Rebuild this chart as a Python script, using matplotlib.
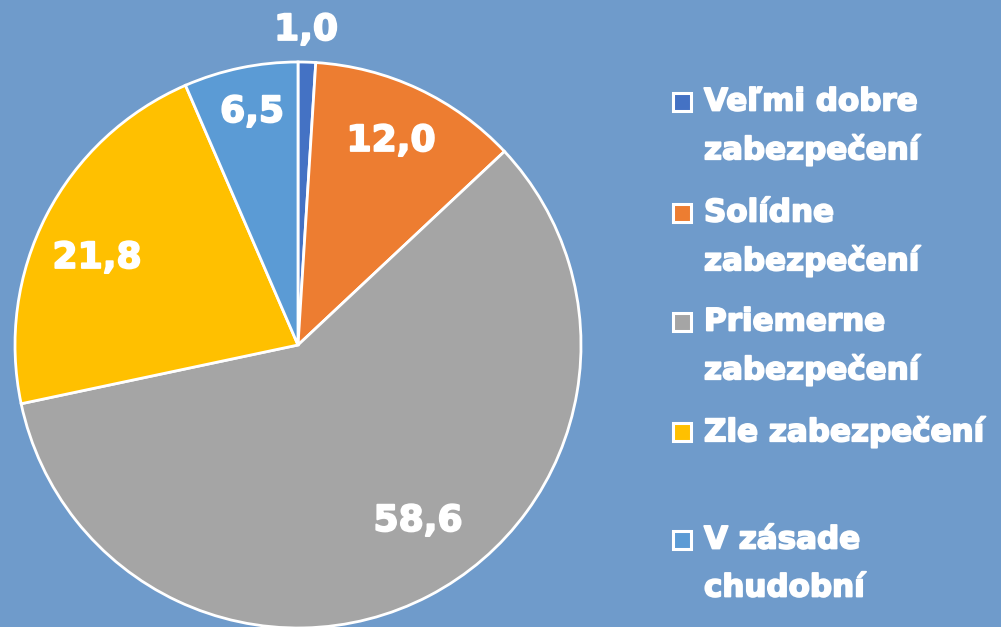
import matplotlib.pyplot as plt
import matplotlib.patheffects as pe
from matplotlib.patches import Rectangle

labels = ['Veľmi dobre\nzabezpečení', 'Solídne\nzabezpečení', 'Priemerne\nzabezpečení',
          'Zle zabezpečení', 'V zásade\nchudobní']
values = [1.0, 12.0, 58.6, 21.8, 6.5]
colors = ['#4472C4', '#ED7D31', '#A5A5A5', '#FFC000', '#5B9BD5']
bg = '#6F9BCB'

W, H = 1001, 627
fig = plt.figure(figsize=(W / 100, H / 100), dpi=100, facecolor=bg)
ax = fig.add_axes([0, 0, 1, 1])


def py(y):
    # pixel row (from top) -> data y
    return H - y


cx, cy, r = 298, 345, 283
wedges, _ = ax.pie(values, colors=colors, startangle=90, counterclock=False,
                   center=(cx, py(cy)), radius=r, frame=True,
                   wedgeprops=dict(edgecolor='white', linewidth=2))
ax.set_xlim(0, W)
ax.set_ylim(0, H)
ax.set_aspect('equal')
ax.axis('off')

# make text look heavier (reference uses an Arial Black-like face)
heavy = [pe.withStroke(linewidth=1.3, foreground='white')]

# value labels (positions in pixels)
label_pos = [(306, 30), (391, 141), (418, 521), (97, 258), (252, 112)]
for v, (x, y) in zip(values, label_pos):
    ax.text(x, py(y), f'{v:.1f}'.replace('.', ','), color='white', fontsize=26,
            fontweight='bold', family='DejaVu Sans', ha='center', va='center',
            path_effects=heavy)

# legend
leg_y = [102, 213, 322, 432, 540]
for lab, col, y in zip(labels, colors, leg_y):
    ax.add_patch(Rectangle((673, py(y) - 9), 18, 18, facecolor=col, edgecolor='white',
                           linewidth=2.2, clip_on=False))
    for i, line in enumerate(lab.split('\n')):
        ax.text(704, py(y + i * 48), line, color='white', fontsize=22.3, fontweight='bold',
                family='DejaVu Sans', ha='left', va='center', path_effects=heavy)

fig.savefig('out.png', dpi=100, facecolor=bg)
